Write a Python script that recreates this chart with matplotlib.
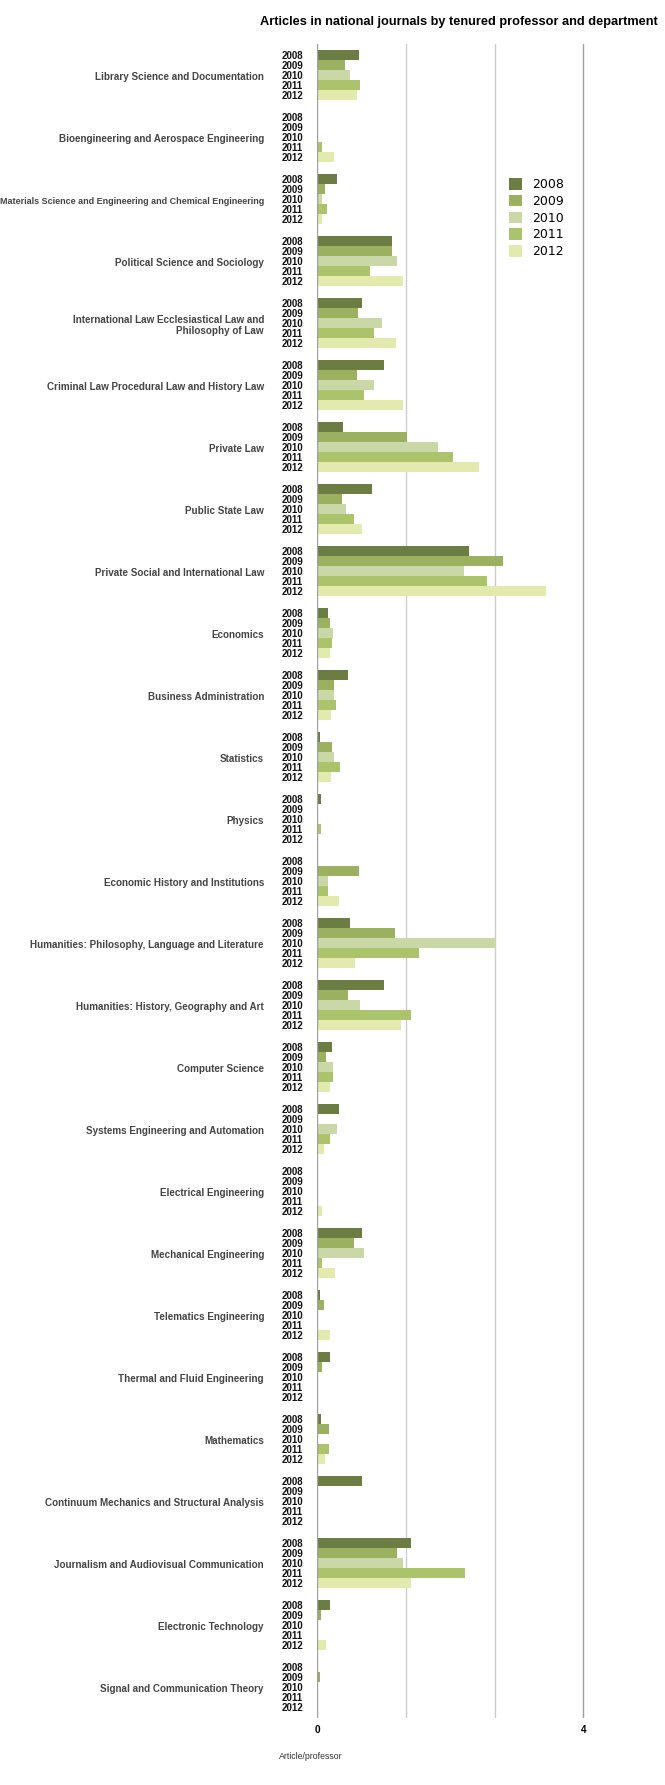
import matplotlib
matplotlib.use("Agg")
import matplotlib.pyplot as plt
from matplotlib.patches import Patch
import numpy as np

departments = [
    "Library Science and Documentation",
    "Bioengineering and Aerospace Engineering",
    "Materials Science and Engineering and Chemical Engineering",
    "Political Science and Sociology",
    "International Law Ecclesiastical Law and\nPhilosophy of Law",
    "Criminal Law Procedural Law and History Law",
    "Private Law",
    "Public State Law",
    "Private Social and International Law",
    "Economics",
    "Business Administration",
    "Statistics",
    "Physics",
    "Economic History and Institutions",
    "Humanities: Philosophy, Language and Literature",
    "Humanities: History, Geography and Art",
    "Computer Science",
    "Systems Engineering and Automation",
    "Electrical Engineering",
    "Mechanical Engineering",
    "Telematics Engineering",
    "Thermal and Fluid Engineering",
    "Mathematics",
    "Continuum Mechanics and Structural Analysis",
    "Journalism and Audiovisual Communication",
    "Electronic Technology",
    "Signal and Communication Theory",
]

years = ["2008", "2009", "2010", "2011", "2012"]

v2008 = [0.63, 0.00, 0.30, 1.12, 0.67, 1.00, 0.39, 0.82, 2.28, 0.16, 0.46, 0.04, 0.06, 0.00,
         0.49, 1.00, 0.22, 0.33, 0.00, 0.67, 0.04, 0.19, 0.06, 0.67, 1.41, 0.19, 0.00]
v2009 = [0.42, 0.00, 0.12, 1.12, 0.61, 0.60, 1.35, 0.37, 2.79, 0.19, 0.25, 0.22, 0.00, 0.63,
         1.17, 0.46, 0.13, 0.00, 0.00, 0.55, 0.10, 0.07, 0.18, 0.00, 1.20, 0.06, 0.04]
v2010 = [0.49, 0.00, 0.07, 1.20, 0.97, 0.85, 1.81, 0.43, 2.21, 0.24, 0.25, 0.25, 0.00, 0.16,
         2.69, 0.64, 0.24, 0.30, 0.00, 0.70, 0.00, 0.00, 0.00, 0.00, 1.29, 0.00, 0.00]
v2011 = [0.64, 0.07, 0.15, 0.79, 0.85, 0.70, 2.04, 0.55, 2.55, 0.22, 0.28, 0.34, 0.06, 0.16,
         1.53, 1.41, 0.24, 0.19, 0.00, 0.07, 0.00, 0.00, 0.18, 0.00, 2.22, 0.00, 0.00]
v2012 = [0.60, 0.25, 0.07, 1.29, 1.18, 1.29, 2.43, 0.67, 3.44, 0.19, 0.21, 0.21, 0.00, 0.33,
         0.57, 1.26, 0.19, 0.10, 0.07, 0.27, 0.19, 0.00, 0.12, 0.00, 1.41, 0.13, 0.00]

series = [v2008, v2009, v2010, v2011, v2012]
colors = ["#6c7d43", "#9bb160", "#cad8a8", "#abc46c", "#e2eaad"]

minor_grid = [4 / 3, 8 / 3]
major_grid = [0, 4]
tick_labels = ["0", "4"]

W, H = 665, 1785
DPI = 100
fig = plt.figure(figsize=(W / DPI, H / DPI), dpi=DPI)

x0_px, x1_px = 317.3, 665.0
top_px, bot_px = 44.0, 1718.0
px_per_unit = 66.5

ax = fig.add_axes([x0_px / W, 1 - bot_px / H, (x1_px - x0_px) / W, (bot_px - top_px) / H])
xmax = (x1_px - x0_px) / px_per_unit
ax.set_xlim(0, xmax)
n = len(departments)
ax.set_ylim(n, 0)
for s in ax.spines.values():
    s.set_visible(False)
ax.set_xticks([])
ax.set_yticks([])

for g in minor_grid:
    ax.axvline(g, color="#cccccc", lw=1.0, zorder=0)
for g in major_grid:
    ax.axvline(g, color="#a0a0a0", lw=1.0, zorder=3 if g == 0 else 0)

bar_h = 10.0 / 62.0
fams_bold = ["Liberation Sans", "DejaVu Sans"]
idx = np.arange(n)
for j, (vals, c) in enumerate(zip(series, colors)):
    yc = idx + 0.5 + (j - 2) * bar_h
    ax.barh(yc, vals, height=bar_h, color=c, edgecolor="none", zorder=2)
    for k in range(n):
        ax.text(-14.3 / px_per_unit, yc[k] + 0.012, years[j], ha="right", va="center",
                fontsize=7.0, fontweight="bold", family=fams_bold, color="#111111",
                clip_on=False)

for k, name in enumerate(departments):
    size = 6.45 if name.startswith("Materials") else 7.15
    ax.text(-53.3 / px_per_unit, k + 0.5 + 0.04, name, ha="right", va="center",
            fontsize=size, fontweight="bold", family=fams_bold, color="#444444",
            clip_on=False, linespacing=1.15)

# x tick labels
for v, lab in zip(major_grid, tick_labels):
    ax.text(v, n + 12.0 / 62.0, lab, ha="center", va="center", fontsize=7.2,
            fontweight="bold", family=fams_bold, color="#000000", clip_on=False)

fig.text(279 / W, 1 - 1756 / H, "Article/professor", ha="left", va="center",
         fontsize=6.3, family=fams_bold, color="#333333")

fig.text(657.5 / W, 1 - 22 / H, "Articles in national journals by tenured professor and department",
         ha="right", va="center", fontsize=9.2, fontweight="bold", family=fams_bold, color="#000000")

handles = [Patch(facecolor=c, edgecolor="none", label=y) for c, y in zip(colors, years)]
fig.legend(handles=handles, loc="upper left", bbox_to_anchor=(509 / W, 1 - 178 / H),
           frameon=False, borderpad=0, borderaxespad=0,
           handlelength=1.04, handleheight=1.04, labelspacing=0.3, handletextpad=0.8,
           prop={"family": "DejaVu Sans", "size": 9})

fig.savefig("out.png", dpi=DPI)
